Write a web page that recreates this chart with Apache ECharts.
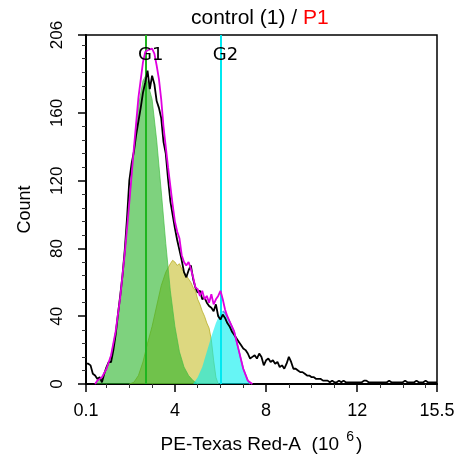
<!DOCTYPE html>
<html><head><meta charset="utf-8">
<script src="https://cdn.jsdelivr.net/npm/echarts@6/dist/echarts.min.js"></script>
<style>html,body{margin:0;padding:0;background:#fff}#c{width:463px;height:465px}</style>
</head><body><div id="c"></div>
<script>
// Raw histogram: bins start at 0.1 with step 0.1 (x in 10^6)
const rawStart = 0.1, rawStep = 0.1;
const rawCounts = [
  12,12,11,6,5,3,4,1,6,10,
  13,13,20,29,41,52,64,79,98,120,
  130,137,147,155,163,172,178,185,174,182,
  177,167,163,157,143,136,121,108,100,92,
  85,79,73,66,63,67,70,62,57,54,
  55,50,51,48,46,45,43,47,40,38,
  41,39,36,34,31,29,27,25,23,21,
  20,18,15,16,17,15,18,16,11,14,
  15,13,14,12,13,10,11,9,12,16,
  13,9,9,8,7,7,6,5,5,4,
  4,3,3,3,2,2,2,1,2,1,
  1,2,1,2,1,1,1,1,1,1,
  1,1,2,2,1,1,1,1,1,1,
  1,1,1,2,1,1,1,1,1,1,
  2,1,1,1,1,2,1,1,1,2,
  1,1,1,1,1
];
// Fit (magenta)
const fitX = [0.5,0.6,0.8,1.0,1.2,1.4,1.6,1.8,2.0,2.2,2.4,2.6,2.7,2.8,3.0,3.1,3.2,3.3,3.4,3.5,3.6,3.7,3.8,3.9,4.0,4.1,4.2,4.3,4.4,4.5,4.6,4.7,4.8,4.9,5.0,5.1,5.2,5.3,5.4,5.5,5.6,5.7,5.8,5.9,6.0,6.1,6.2,6.3,6.4,6.6,6.8,7.0,7.2,7.4];
const fitY = [0,2,4,9,17,31,51,77,107,139,169,190,196,197,198,195,188,180,168,152,140,128,117,106,96,90,86,76,72,70,72,68,63,57,56,52,55,50,52,48,53,47,50,52,55,50,44,40,37,31,20,9,2,0];
// G1 component (green)
const g1X = [0.5,0.6,0.8,1.0,1.2,1.4,1.6,1.8,2.0,2.2,2.4,2.6,2.72,2.8,3.0,3.2,3.4,3.6,3.8,4.0,4.2,4.4,4.6,4.8,5.0];
const g1Y = [0,2,4,9,17,31,51,77,107,138,164,179,182,181,168,144,114,83,55,34,19,10,5,2,0];
// S-phase component (yellow)
const sX = [2.0,2.2,2.4,2.6,2.8,3.0,3.2,3.4,3.6,3.8,3.9,4.0,4.1,4.2,4.3,4.4,4.5,4.6,4.7,4.8,4.9,5.0,5.1,5.2,5.3,5.4,5.5,5.6,5.7,5.8,5.9];
const sY = [0,1,5,13,24,34,46,58,66,71,73,72,70,71,68,66,64,62,60,57,55,50,47,43,40,36,33,26,14,4,0];
// G2 component (cyan)
const g2X = [4.8,5.0,5.2,5.4,5.6,5.8,6.0,6.1,6.2,6.4,6.6,6.8,7.0,7.2,7.3];
const g2Y = [0,4,10,19,28,36,42,43,42,37,31,20,9,2,0];
// Gates
const gateNames = ['G1','G2'];
const gateX = [2.72, 6.0];
const gateLabelY = 194;
// Axes
const xTickLabels = [0.1,4,8,12,15.5];
const xMinorTicks = [1,2,3,5,6,7,9,10,11,13,14,15];
const yTickLabels = [0,40,80,120,160,206];
const yMinorTicks = [8,16,24,32,48,56,64,72,88,96,104,112,128,136,144,152,168,176,184,192,200];

const zip = (xs, ys) => xs.map((x, i) => [x, ys[i]]);
const rawData = rawCounts.map((c, i) => [+(rawStart + i * rawStep).toFixed(1), c]);
const g2Peak = g2Y.indexOf(Math.max(...g2Y));
const g2Edge = g2X.map((x, i) => [x, i >= g2Peak ? g2Y[i] : null]);

const chart = echarts.init(document.getElementById('c'), null, {renderer: 'canvas'});
const FONT = '"Liberation Sans", Arial, sans-serif';
chart.setOption({
  animation: false,
  backgroundColor: '#fff',
  title: {
    left: 186, top: 3,
    text: '{a|control (1) / }{b|P1}',
    textStyle: {
      fontWeight: 'normal',
      rich: {
        a: {fontFamily: FONT, fontSize: 21, color: '#000', fontWeight: 'normal'},
        b: {fontFamily: FONT, fontSize: 21, color: '#ff0000', fontWeight: 'normal'}
      }
    }
  },
  grid: {left: 86, right: 26, top: 35, bottom: 81, show: true, borderColor: '#000', borderWidth: 1.5, backgroundColor: 'transparent'},
  xAxis: [{
    type: 'value', min: 0.1, max: 15.5,
    axisLine: {show: true, lineStyle: {color: '#000', width: 2}},
    axisTick: {show: true, customValues: xTickLabels, length: 8, lineStyle: {color: '#000', width: 1.5}},
    axisLabel: {customValues: xTickLabels, color: '#000', fontFamily: FONT, fontSize: 18, margin: 18,
      formatter: v => String(v)},
    splitLine: {show: false},
    name: '{a|PE-Texas Red-A  (10 }{s|6}{a|)}',
    nameLocation: 'middle', nameGap: 46,
    nameTextStyle: {rich: {
      a: {fontFamily: FONT, fontSize: 19, color: '#000', lineHeight: 24, verticalAlign: 'bottom'},
      s: {fontFamily: FONT, fontSize: 14, color: '#000', lineHeight: 24, verticalAlign: 'top', padding: [0, 2, 0, 2]}
    }}
  }, {
    type: 'value', min: 0.1, max: 15.5, position: 'bottom', gridIndex: 0,
    axisLine: {show: false},
    axisTick: {show: true, customValues: xMinorTicks, length: 4, lineStyle: {color: '#333', width: 1}},
    axisLabel: {show: false},
    splitLine: {show: false}
  }],
  yAxis: [{
    type: 'value', min: 0, max: 206,
    axisLine: {show: true, lineStyle: {color: '#000', width: 2}},
    axisTick: {show: true, customValues: yTickLabels, length: 8, lineStyle: {color: '#000', width: 1.5}},
    axisLabel: {customValues: yTickLabels, rotate: 90, color: '#000', fontFamily: FONT, fontSize: 17, margin: 20},
    splitLine: {show: false},
    name: 'Count', nameLocation: 'middle', nameGap: 52,
    nameTextStyle: {fontFamily: FONT, fontSize: 18, color: '#000'}
  }, {
    type: 'value', min: 0, max: 206, position: 'left', gridIndex: 0,
    axisLine: {show: false},
    axisTick: {show: true, customValues: yMinorTicks, length: 4, lineStyle: {color: '#333', width: 1}},
    axisLabel: {show: false},
    splitLine: {show: false}
  }],
  series: [
    {name: 'S', type: 'line', data: zip(sX, sY), symbol: 'none', z: 2,
      lineStyle: {color: 'rgba(185,175,40,0.8)', width: 1},
      areaStyle: {color: 'rgba(200,192,50,0.62)', opacity: 1}},
    {name: 'G1', type: 'line', data: zip(g1X, g1Y), symbol: 'none', z: 3,
      lineStyle: {color: 'rgba(70,190,70,0.7)', width: 1},
      areaStyle: {color: 'rgba(40,180,40,0.6)', opacity: 1}},
    {name: 'G2', type: 'line', data: zip(g2X, g2Y), symbol: 'none', z: 4,
      lineStyle: {width: 0},
      areaStyle: {color: 'rgba(0,238,238,0.6)', opacity: 1}},
    {name: 'G2edge', type: 'line', data: g2Edge, symbol: 'none', z: 5, connectNulls: false,
      lineStyle: {color: '#5a8fe0', width: 1.5}},
    {name: 'raw', type: 'line', data: rawData, symbol: 'none', z: 6,
      lineStyle: {color: '#000', width: 1.8}},
    {name: 'fit', type: 'line', data: zip(fitX, fitY), symbol: 'none', z: 7,
      lineStyle: {color: '#e000e0', width: 1.8}},
    {name: 'gates', type: 'line', data: [], z: 8, symbol: 'none',
      markLine: {silent: true, symbol: 'none', label: {show: false}, animation: false,
        data: [
          {xAxis: gateX[0], lineStyle: {color: '#1fb51f', width: 2, type: 'solid'}},
          {xAxis: gateX[1], lineStyle: {color: '#00e8f0', width: 2, type: 'solid'}}
        ]}},
    {name: 'gateLabels', type: 'scatter', symbolSize: 0, z: 9,
      data: gateX.map((x, i) => ({value: [x, gateLabelY], name: gateNames[i]})),
      label: {show: true, position: 'inside', offset: [5, 0], formatter: p => p.name,
        color: '#000', opacity: 1, fontWeight: 'normal', fontFamily: '"DejaVu Sans", Verdana, sans-serif', fontSize: 18}}
  ]
});
</script>
</body></html>
